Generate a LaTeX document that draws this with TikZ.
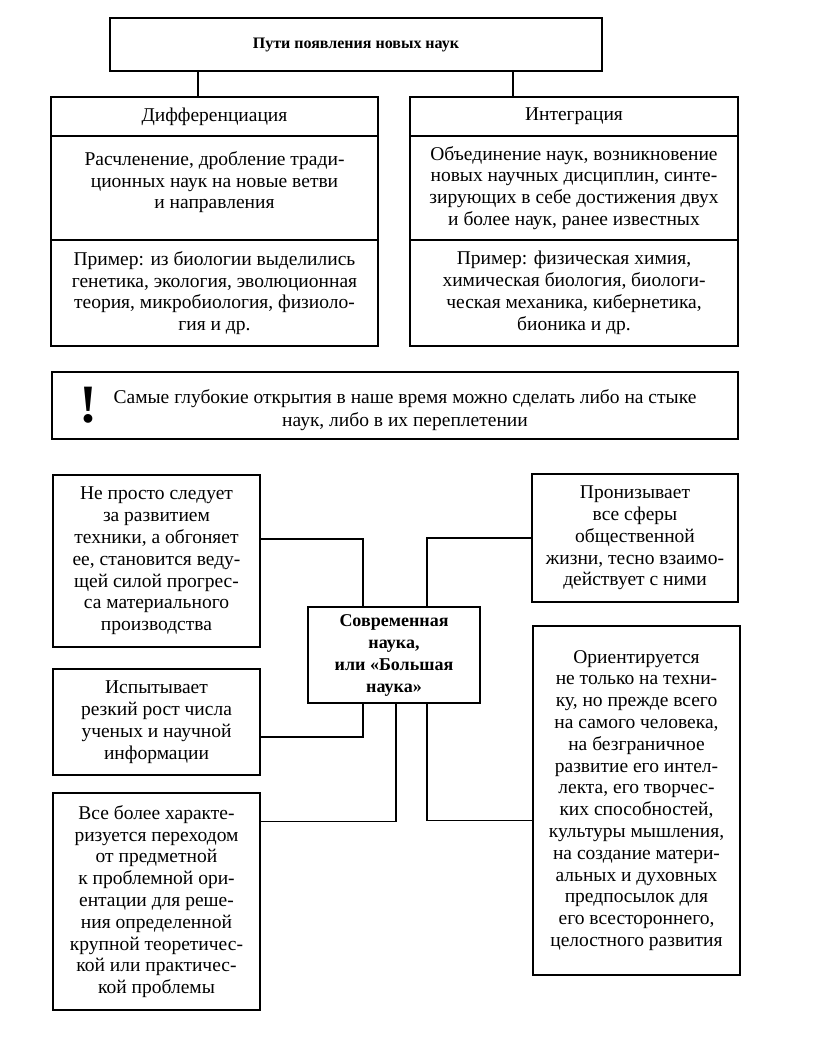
\documentclass[tikz,border=0pt]{standalone}
\usepackage{fontspec}
\setmainfont{Liberation Serif}
\usetikzlibrary{calc}

\begin{document}
\begin{tikzpicture}[x=1pt,y=-1pt,
    box/.style={draw,line width=1.1pt,inner sep=0pt,outer sep=0pt,align=center,
      font=\fontsize{19.5}{21.8}\selectfont},
    link/.style={line width=1.1pt}]
  \useasboundingbox (0,0) rectangle (816,1044);
  % top box
  \node[box,minimum width=492pt,minimum height=53pt,
    font=\bfseries\fontsize{16}{20}\selectfont] (title) at (356,44.5) {Пути появления новых наук};
  % left column
  \node[box,minimum width=327pt,minimum height=39pt] (difhead) at (214.5,116.5) {Дифференциация};
  \node[box,minimum width=327pt,minimum height=104pt] (difdesc) at (214.5,188)
    {Расчленение, дробление тради-\\ционных наук на новые ветви\\и направления\\[-6pt]};
  \node[box,minimum width=327pt,minimum height=106pt] (difex) at (214.5,293)
    {Пример: из биологии выделились\\генетика, экология, эволюционная\\теория, микробиология, физиоло-\\гия и др.};
  % right column
  \node[box,minimum width=328pt,minimum height=39pt] (inthead) at (574,116.5) {Интеграция};
  \node[box,minimum width=328pt,minimum height=104pt] (intdesc) at (574,188)
    {Объединение наук, возникновение\\новых научных дисциплин, синте-\\зирующих в себе достижения двух\\и более наук, ранее известных};
  \node[box,minimum width=328pt,minimum height=106pt] (intex) at (574,293)
    {Пример: физическая химия,\\химическая биология, биологи-\\ческая механика, кибернетика,\\бионика и др.};
  % top links
  \draw[link] ([xshift=88pt]title.south west) -- ([xshift=88pt]title.south west |- difhead.north);
  \draw[link] ([xshift=-89pt]title.south east) -- ([xshift=-89pt]title.south east |- inthead.north);
  % remark
  \node[box,minimum width=686pt,minimum height=67pt] (warn) at (395,405.5) {};
  \node[font=\bfseries\fontsize{54}{54}\selectfont,inner sep=0pt] (bang) at (88,405) {!};
  \node[align=center,inner sep=0pt,font=\fontsize{19.5}{22.5}\selectfont] (warntext) at (405,410)
    {Самые глубокие открытия в наше время можно сделать либо на стыке\\наук, либо в их переплетении};
  % big science
  \node[box,minimum width=172pt,minimum height=96pt,
    font=\bfseries\fontsize{18}{22}\selectfont] (core) at (394,655)
    {Современная\\наука,\\или «Большая\\наука»};
  \node[box,minimum width=207pt,minimum height=172pt] (tech) at (156.5,561)
    {Не просто следует\\за развитием\\техники, а обгоняет\\ее, становится веду-\\щей силой прогрес-\\са материального\\производства};
  \node[box,minimum width=207pt,minimum height=106pt] (growth) at (156.5,722)
    {Испытывает\\резкий рост числа\\ученых и научной\\информации};
  \node[box,minimum width=207pt,minimum height=217pt] (problem) at (156.5,901.5)
    {Все более характе-\\ризуется переходом\\от предметной\\к проблемной ори-\\ентации для реше-\\ния определенной\\крупной теоретичес-\\кой или практичес-\\кой проблемы};
  \node[box,minimum width=206pt,minimum height=128pt] (society) at (635,538)
    {Пронизывает\\все сферы\\общественной\\жизни, тесно взаимо-\\действует с ними};
  \node[box,minimum width=207pt,minimum height=349pt] (human) at (636.5,800.5)
    {Ориентируется\\не только на техни-\\ку, но прежде всего\\на самого человека,\\на безграничное\\развитие его интел-\\лекта, его творчес-\\ких способностей,\\культуры мышления,\\на создание матери-\\альных и духовных\\предпосылок для\\его всестороннего,\\целостного развития};
  % links to the centre
  \draw[link] ([yshift=22pt]tech.east) -| ([xshift=-31pt]core.north);
  \draw[link] ([yshift=-15pt]growth.east) -| ([xshift=-31pt]core.south);
  \draw[link] ([yshift=80pt]problem.east) -| ([xshift=2pt]core.south);
  \draw[link] (society.west) -| ([xshift=33pt]core.north);
  \draw[link] ([yshift=-20pt]human.west) -| ([xshift=33pt]core.south);
\end{tikzpicture}
\end{document}
